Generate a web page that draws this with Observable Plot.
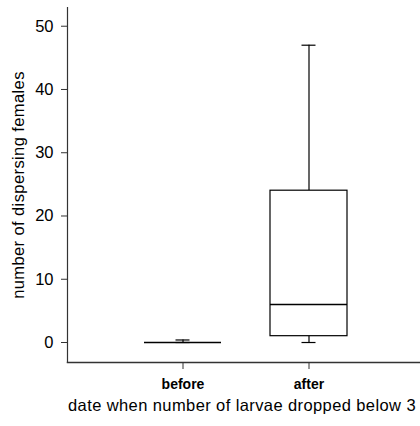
<!DOCTYPE html>
<html>
<head>
<meta charset="utf-8">
<script src="https://cdn.jsdelivr.net/npm/d3@7"></script>
<script src="https://cdn.jsdelivr.net/npm/@observablehq/plot@0.6"></script>
<style>
  html, body { margin: 0; padding: 0; background: #fff; }
  svg { display: block; }
</style>
</head>
<body>
<div id="chart"></div>
<script>
// Data
const categories = ["before", "after"];
const whiskerLow = [0, 0];
const q1 = [0, 1];
const median = [0, 6];
const q3 = [0, 24];
const whiskerHigh = [0.4, 47];
const yTicks = [0, 10, 20, 30, 40, 50];
const xTitle = "date when number of larvae dropped below 3";
const yTitle = "number of dispersing females";

const data = categories.map((c, i) => ({
  cat: c, lo: whiskerLow[i], q1: q1[i], med: median[i], q3: q3[i], hi: whiskerHigh[i]
}));

const chart = Plot.plot({
  width: 420,
  height: 426,
  marginLeft: 67,
  marginRight: 0,
  marginTop: 7,
  marginBottom: 64,
  style: { fontFamily: "'Liberation Sans', Arial, sans-serif", fontSize: "15px", color: "#000", background: "#fff", overflow: "visible" },
  x: { type: "band", domain: categories, paddingInner: 0.39, paddingOuter: 0.59, align: 0.51 },
  y: { domain: [-3.16, 52.96] },
  marks: [
    Plot.ruleX(data, { x: "cat", y1: "q3", y2: "hi", stroke: "#000", strokeWidth: 1.2 }),
    Plot.ruleX(data, { x: "cat", y1: "lo", y2: "q1", stroke: "#000", strokeWidth: 1.2 }),
    Plot.barY(data, { x: "cat", y1: "q1", y2: "q3", fill: "white", stroke: "#000", strokeWidth: 1.2 }),
    Plot.tickY(data, { x: "cat", y: "med", stroke: "#000", strokeWidth: 1.4 }),
    Plot.tickY(data, { x: "cat", y: "hi", stroke: "#000", strokeWidth: 1.2, insetLeft: 31.5, insetRight: 31.5 }),
    Plot.tickY(data, { x: "cat", y: "lo", stroke: "#000", strokeWidth: 1.2, insetLeft: 31.5, insetRight: 31.5 }),
    Plot.frame({ anchor: "left", stroke: "#333", strokeWidth: 1.2 }),
    Plot.frame({ anchor: "bottom", stroke: "#333", strokeWidth: 1.4 }),
    Plot.axisY({ ticks: yTicks, tickSize: 6, tickPadding: 8, label: null, fontSize: 16.5, stroke: "#333" }),
    Plot.axisX({ tickSize: 7, tickPadding: 10, label: null, fontSize: 14, fontWeight: "bold", stroke: "#333" }),
    Plot.text([xTitle], { frameAnchor: "bottom", dy: 43, dx: -2, textAnchor: "middle", lineAnchor: "middle", fontSize: 16.5, fill: "#000" }),
    Plot.text([yTitle], { frameAnchor: "left", dx: -49, dy: 0, rotate: -90, textAnchor: "middle", lineAnchor: "middle", fontSize: 16.5, fill: "#000" })
  ]
});
d3.select(chart).selectAll("text").each(function () {
  const t = this.textContent;
  if (t === xTitle) this.style.letterSpacing = "0.4px";
  if (t === yTitle) this.style.letterSpacing = "0.4px";
});
document.getElementById("chart").appendChild(chart);
</script>
</body>
</html>
